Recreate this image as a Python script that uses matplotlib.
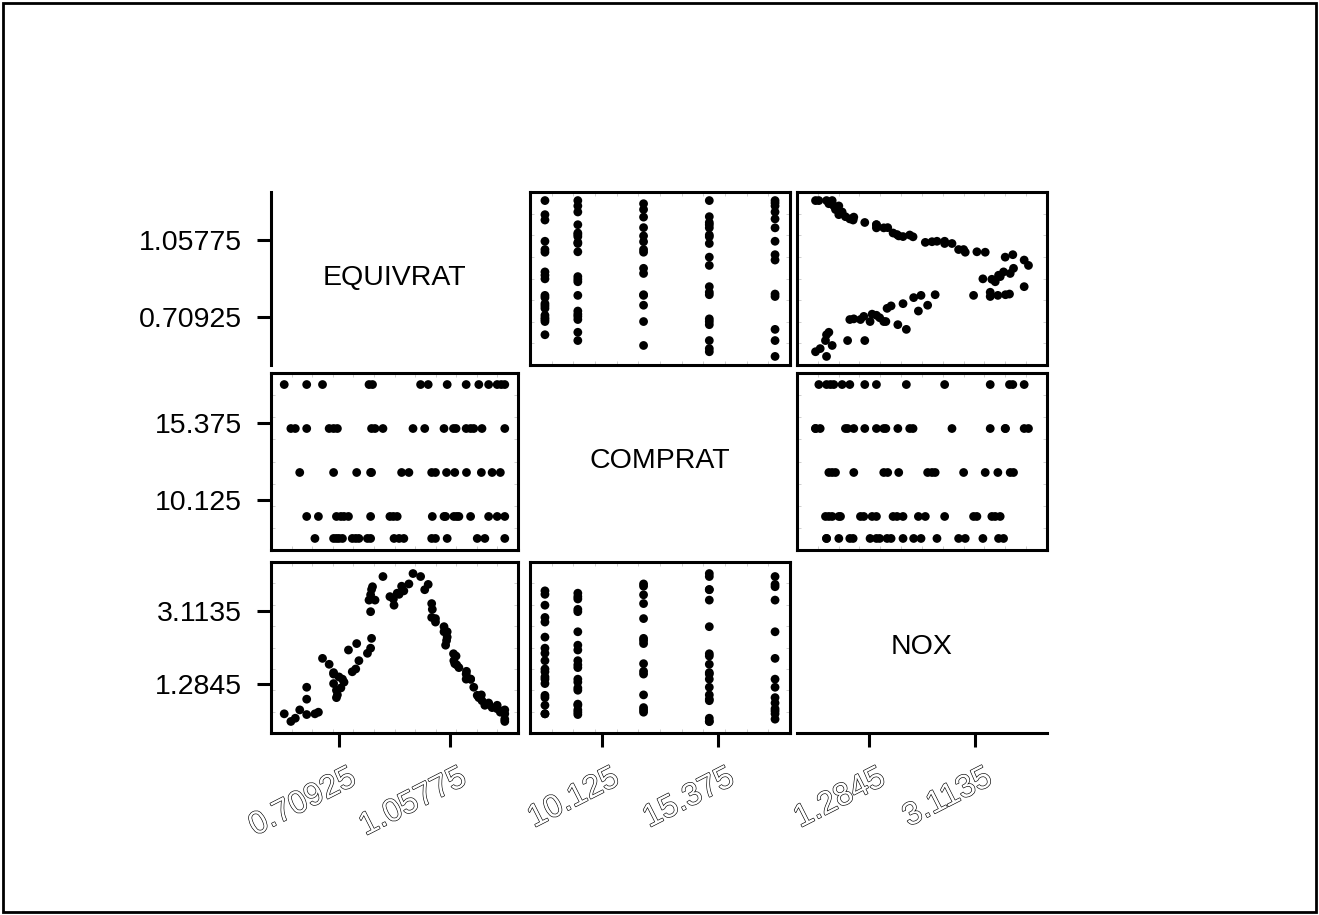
import matplotlib
matplotlib.use('Agg')
import matplotlib.pyplot as plt
import matplotlib.patheffects as pe
from matplotlib.patches import Rectangle
from matplotlib.ticker import LinearLocator
import numpy as np

plt.rcParams['font.family'] = ['Liberation Sans', 'DejaVu Sans']

# ---------------- data ----------------
var_names = ['EQUIVRAT', 'COMPRAT', 'NOX']

equivrat = [
    # COMPRAT 7.5
    0.632, 0.691, 0.700, 0.708, 0.719, 0.750, 0.761, 0.771, 0.798, 0.808,
    0.882, 0.898, 0.913, 1.001, 1.013, 1.050, 1.145, 1.169, 1.232,
    # COMPRAT 9
    0.606, 0.643, 0.700, 0.714, 0.724, 0.738, 0.808, 0.869, 0.880, 0.892,
    1.003, 1.040, 1.045, 1.071, 1.080, 1.087, 1.124, 1.181, 1.208, 1.232,
    # COMPRAT 12
    0.584, 0.691, 0.764, 0.808, 0.811, 0.906, 0.929, 1.001, 1.013, 1.048,
    1.074, 1.111, 1.158, 1.192, 1.218,
    # COMPRAT 15
    0.556, 0.570, 0.606, 0.677, 0.691, 0.703, 0.811, 0.822, 0.847, 0.942,
    0.979, 1.040, 1.070, 1.078, 1.110, 1.124, 1.134, 1.160, 1.232,
    # COMPRAT 18
    0.535, 0.606, 0.656, 0.803, 0.814, 0.966, 0.990, 1.050, 1.110, 1.150,
    1.181, 1.208, 1.221, 1.232,
]

comprat = [7.5] * 19 + [9.0] * 20 + [12.0] * 15 + [15.0] * 19 + [18.0] * 14

nox = [
    # COMPRAT 7.5
    0.559, 1.307, 0.959, 1.472, 1.416, 1.599, 1.668, 1.873, 2.056, 2.182,
    3.245, 3.514, 3.600, 2.942, 2.828, 2.456, 1.016, 0.770, 0.559,
    # COMPRAT 9
    0.541, 0.599, 1.142, 1.199, 1.342, 2.137, 3.085, 3.457, 3.399, 3.542,
    3.142, 2.588, 2.256, 1.873, 1.770, 1.702, 1.416, 0.799, 0.770, 0.656,
    # COMPRAT 12
    0.656, 1.542, 2.296, 3.502, 2.425, 3.714, 3.771, 3.285, 2.914, 2.371,
    1.799, 1.610, 1.027, 0.713, 0.599,
    # COMPRAT 15
    0.370, 0.450, 0.921, 1.784, 1.578, 1.027, 3.633, 3.371, 3.954, 4.028,
    3.628, 2.714, 2.045, 1.988, 1.542, 1.416, 1.216, 0.884, 0.370,
    # COMPRAT 18
    0.559, 1.216, 1.930, 3.371, 3.702, 3.954, 3.759, 2.588, 1.416, 0.959,
    0.827, 0.684, 0.627, 0.427,
]

tick_labels = [
    ['0.70925', '1.05775'],   # EQUIVRAT
    ['10.125', '15.375'],     # COMPRAT
    ['1.2845', '3.1135'],     # NOX
]

# ---------------- layout ----------------
W, H = 1319, 915
fig = plt.figure(figsize=(W / 100, H / 100), dpi=100)

cols_px = [(271, 518), (530, 790), (797, 1047)]
rows_px = [(192, 365), (373, 550), (562, 733)]
pad_x = [0.060, 0.065, 0.087]
pad_y = [0.055, 0.075, 0.078]

data = [np.array(equivrat), np.array(comprat), np.array(nox)]
LW = 2.2
FS = 20.5


def lims(v, pad):
    lo, hi = v.min(), v.max()
    r = hi - lo
    return lo - pad * r, hi + pad * r


hollow = [pe.withStroke(linewidth=0.9, foreground='black')]

for i in range(3):
    for j in range(3):
        x0, x1 = cols_px[j]
        y0, y1 = rows_px[i]
        ax = fig.add_axes([x0 / W, 1 - y1 / H, (x1 - x0) / W, (y1 - y0) / H])
        ax.set_xlim(*lims(data[j], pad_x[j]))
        ax.set_ylim(*lims(data[i], pad_y[i]))
        ax.set_facecolor('none')
        for s in ax.spines.values():
            s.set_linewidth(LW)
            s.set_color('black')
        if i == j:
            for s in ax.spines.values():
                s.set_visible(False)
            ax.text(0.5, 0.5, var_names[i], transform=ax.transAxes,
                    ha='center', va='center', fontsize=FS)
            if i == 0:
                ax.spines['left'].set_visible(True)
            if i == 2:
                ax.spines['bottom'].set_visible(True)
        else:
            ax.scatter(data[j], data[i], s=40, color='black',
                       edgecolors='none', zorder=3)
            # faint inner minor ticks along the frame
            ax.xaxis.set_minor_locator(LinearLocator(13))
            ax.yaxis.set_minor_locator(LinearLocator(9))
            ax.tick_params(which='minor', direction='in', length=3,
                           width=0.6, color='#c8c8c8', top=True, right=True,
                           bottom=True, left=True)
        ax.tick_params(which='major', direction='out', length=10,
                       width=LW, color='black')
        if j == 0:
            ax.set_yticks([float(t) for t in tick_labels[i]])
            ax.set_yticklabels(tick_labels[i], fontsize=FS)
            ax.tick_params(axis='y', which='major', pad=11)
        else:
            ax.set_yticks([])
        if i == 2:
            tv = [float(t) for t in tick_labels[j]]
            ax.set_xticks(tv)
            ax.set_xticklabels([])
            for v, lab in zip(tv, tick_labels[j]):
                ax.annotate(lab, xy=(v, 0), xycoords=('data', 'axes fraction'),
                            xytext=(8, -30), textcoords='offset pixels',
                            rotation=27, ha='right', va='top',
                            rotation_mode='anchor', fontsize=23,
                            color='white', path_effects=hollow,
                            annotation_clip=False)
        else:
            ax.set_xticks([])

# outer frame
fig.patches.append(Rectangle((3 / W, 3 / H), 1 - 6 / W, 1 - 6 / H,
                             transform=fig.transFigure, fill=False,
                             edgecolor='black', linewidth=2))

fig.savefig('out.png', dpi=100)
